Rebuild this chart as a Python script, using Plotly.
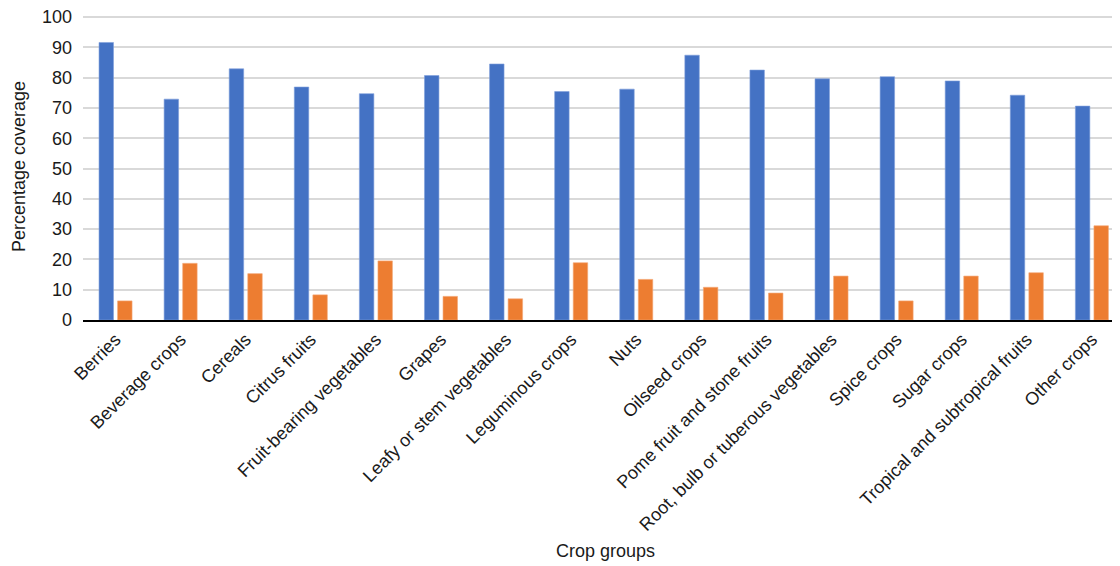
import plotly.graph_objects as go

categories = ["Berries", "Beverage crops", "Cereals", "Citrus fruits",
              "Fruit-bearing vegetables", "Grapes", "Leafy or stem vegetables",
              "Leguminous crops", "Nuts", "Oilseed crops", "Pome fruit and stone fruits",
              "Root, bulb or tuberous vegetables", "Spice crops", "Sugar crops",
              "Tropical and subtropical fruits", "Other crops"]
series_a = [91.6, 72.9, 82.9, 76.9, 74.7, 80.7, 84.5, 75.4, 76.2, 87.4, 82.5, 79.6, 80.3, 78.9, 74.2, 70.6]
series_b = [6.3, 18.7, 15.3, 8.3, 19.5, 7.8, 7.0, 18.9, 13.4, 10.8, 8.9, 14.5, 6.3, 14.5, 15.6, 31.1]
y_ticks = [0, 10, 20, 30, 40, 50, 60, 70, 80, 90, 100]

FONT = "Liberation Sans, Arial, Helvetica, sans-serif"

fig = go.Figure()
fig.add_trace(go.Bar(x=categories, y=series_a, name="Series 1",
                     marker=dict(color="#4472C4", line=dict(color="#7fa0dc", width=0.6))))
fig.add_trace(go.Bar(x=categories, y=series_b, name="Series 2",
                     marker=dict(color="#ED7D31", line=dict(color="#f4a877", width=0.6))))

fig.update_layout(
    width=1120, height=566,
    margin=dict(l=75, r=0, t=6, b=254, autoexpand=False),
    paper_bgcolor="white", plot_bgcolor="white",
    barmode="group", bargap=0.43, bargroupgap=0.22,
    showlegend=False,
    font=dict(family=FONT, size=18, color="#1a1a1a"),
)
fig.update_xaxes(
    range=[-0.5, -0.5 + 1045 / 65.09],
    tickangle=-45, tickfont=dict(size=18),
    showline=True, linecolor="black", linewidth=2,
    showgrid=False, ticks="", automargin=False,
    title=dict(text="Crop groups", font=dict(size=18), standoff=11),
)
fig.update_yaxes(
    range=[0, 101], tickvals=y_ticks,
    showgrid=True, gridcolor="#d9d9d9", gridwidth=2,
    zeroline=False, showline=False, ticks="", ticklabelstandoff=10,
    ticklabeloverflow="allow",
    automargin=False, tickfont=dict(size=18),
)
fig.add_annotation(
    text="Percentage coverage", textangle=-90,
    xref="paper", yref="paper", x=0, y=0.5,
    xanchor="center", yanchor="middle", xshift=-64, showarrow=False,
    font=dict(size=18),
)

fig.write_html("out.html")
